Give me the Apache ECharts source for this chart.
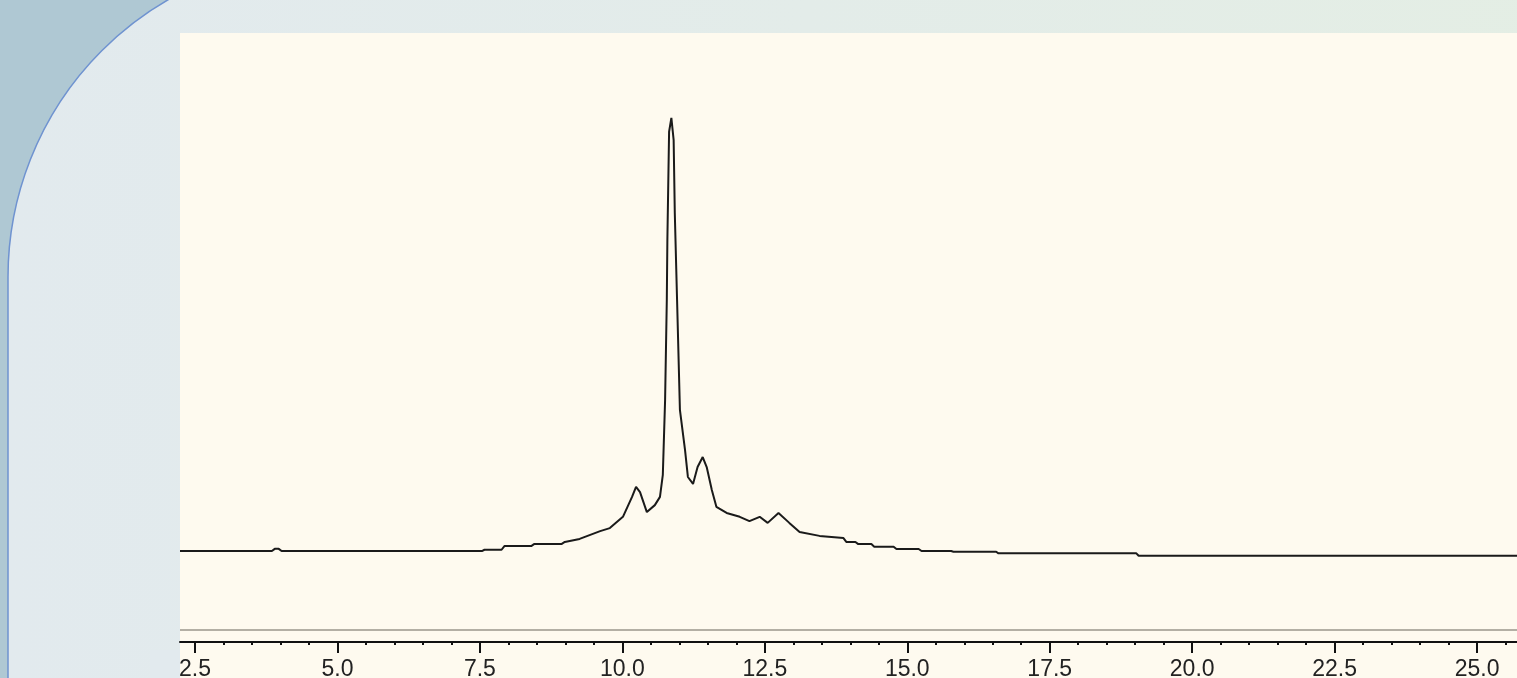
<!DOCTYPE html>
<html>
<head>
<meta charset="utf-8">
<title>Chromatogram</title>
<script src="https://cdn.jsdelivr.net/npm/echarts@6/dist/echarts.min.js"></script>
<style>
html,body{margin:0;padding:0;background:#afc8d3;}
#chart{width:1517px;height:678px;}
</style>
</head>
<body>
<div id="chart"></div>
<script>
// retention time (min) and detector signal
var times = [2.237, 3.85, 3.90, 3.97, 4.02, 7.535, 7.58, 7.88, 7.93, 8.40, 8.45, 8.93, 8.99, 9.25, 9.61, 9.78,
	10.01, 10.17, 10.24, 10.31, 10.43, 10.57, 10.66, 10.71, 10.75, 10.78, 10.79, 10.82, 10.86, 10.90, 10.92, 10.96,
	11.01, 11.10, 11.15, 11.24, 11.32, 11.41, 11.48, 11.57, 11.65, 11.83, 12.06, 12.23, 12.41, 12.55, 12.74, 12.93,
	13.11, 13.46, 13.88, 13.93, 14.09, 14.14, 14.37, 14.42, 14.76, 14.81, 15.20, 15.25, 15.77, 15.81, 16.56, 16.60,
	19.02, 19.06, 25.70];
var signal = [0, 0, 0.5, 0.5, 0, 0, 0.3, 0.3, 1.15, 1.15, 1.6, 1.6, 2.1, 2.8, 4.6, 5.3,
	7.9, 12.5, 14.8, 13.6, 9.0, 10.6, 12.5, 17.6, 34.9, 58.0, 71.8, 96.8, 100, 94.9, 78.1, 58.0,
	32.6, 23.3, 17.1, 15.5, 19.4, 21.7, 19.4, 14.1, 10.2, 8.8, 7.9, 6.9, 7.9, 6.5, 8.8, 6.5,
	4.4, 3.5, 3.0, 2.1, 2.1, 1.6, 1.6, 1.0, 1.0, 0.46, 0.46, 0, 0, -0.16, -0.16, -0.53,
	-0.53, -1.09, -1.09];
var majorTicks = [2.5, 5.0, 7.5, 10.0, 12.5, 15.0, 17.5, 20.0, 22.5, 25.0];
var minorTicks = [];
for (var m = 2.5; m <= 25.5; m += 0.5) minorTicks.push(+m.toFixed(1));
var refLevel = -18.2;

var xMin = 2.237, xMax = 25.70;

var chart = echarts.init(document.getElementById('chart'));
var pts = times.map(function (t, i) { return [t, signal[i]]; });

chart.setOption({
	animation: false,
	backgroundColor: '#afc8d3',
	graphic: [
		{
			type: 'rect', z: -20, silent: true,
			shape: { x: 8, y: -43, width: 1600, height: 800, r: [320, 0, 0, 0] },
			style: {
				fill: new echarts.graphic.LinearGradient(0, 0, 1, 0, [
					{ offset: 0, color: '#e2eaee' },
					{ offset: 1, color: '#e4eee4' }
				]),
				stroke: '#6f93d0', lineWidth: 1.5
			}
		},
		{
			type: 'rect', z: -10, silent: true,
			shape: { x: 180, y: 33, width: 1337, height: 645 },
			style: { fill: '#fefaef' }
		},
		// the picture is cropped at the plot's left edge, hiding part of the first label
		{
			type: 'rect', z: 100, silent: true,
			shape: { x: 150, y: 650, width: 30, height: 28 },
			style: { fill: '#e2eaee' }
		}
	],
	grid: { left: 180, right: 0, top: 33, bottom: 36, containLabel: false, outerBoundsMode: 'none' },
	xAxis: [
		{
			type: 'value', min: xMin, max: xMax, position: 'bottom',
			axisLine: { show: true, onZero: false, lineStyle: { color: '#111', width: 2 } },
			axisTick: { show: true, customValues: majorTicks, length: 11, lineStyle: { color: '#111', width: 2 } },
			axisLabel: {
				customValues: majorTicks, margin: 16, color: '#222', fontSize: 23,
				fontFamily: 'Liberation Sans, Arial, sans-serif',
				formatter: function (v) { return v.toFixed(1); }
			},
			splitLine: { show: false }
		},
		{
			type: 'value', min: xMin, max: xMax, position: 'bottom', offset: 0,
			axisLine: { show: false, onZero: false },
			axisTick: { show: true, customValues: minorTicks, length: 3, lineStyle: { color: '#111', width: 2 } },
			axisLabel: { show: false },
			splitLine: { show: false }
		}
	],
	yAxis: {
		type: 'value', min: -21, max: 119.6, show: false
	},
	series: [{
		type: 'line',
		data: pts,
		showSymbol: false,
		lineStyle: { color: '#1a1a1a', width: 2 },
		markLine: {
			silent: true, symbol: 'none',
			label: { show: false },
			lineStyle: { color: '#b3afa4', width: 2, type: 'solid' },
			data: [{ yAxis: refLevel }]
		}
	}]
});
</script>
</body>
</html>
